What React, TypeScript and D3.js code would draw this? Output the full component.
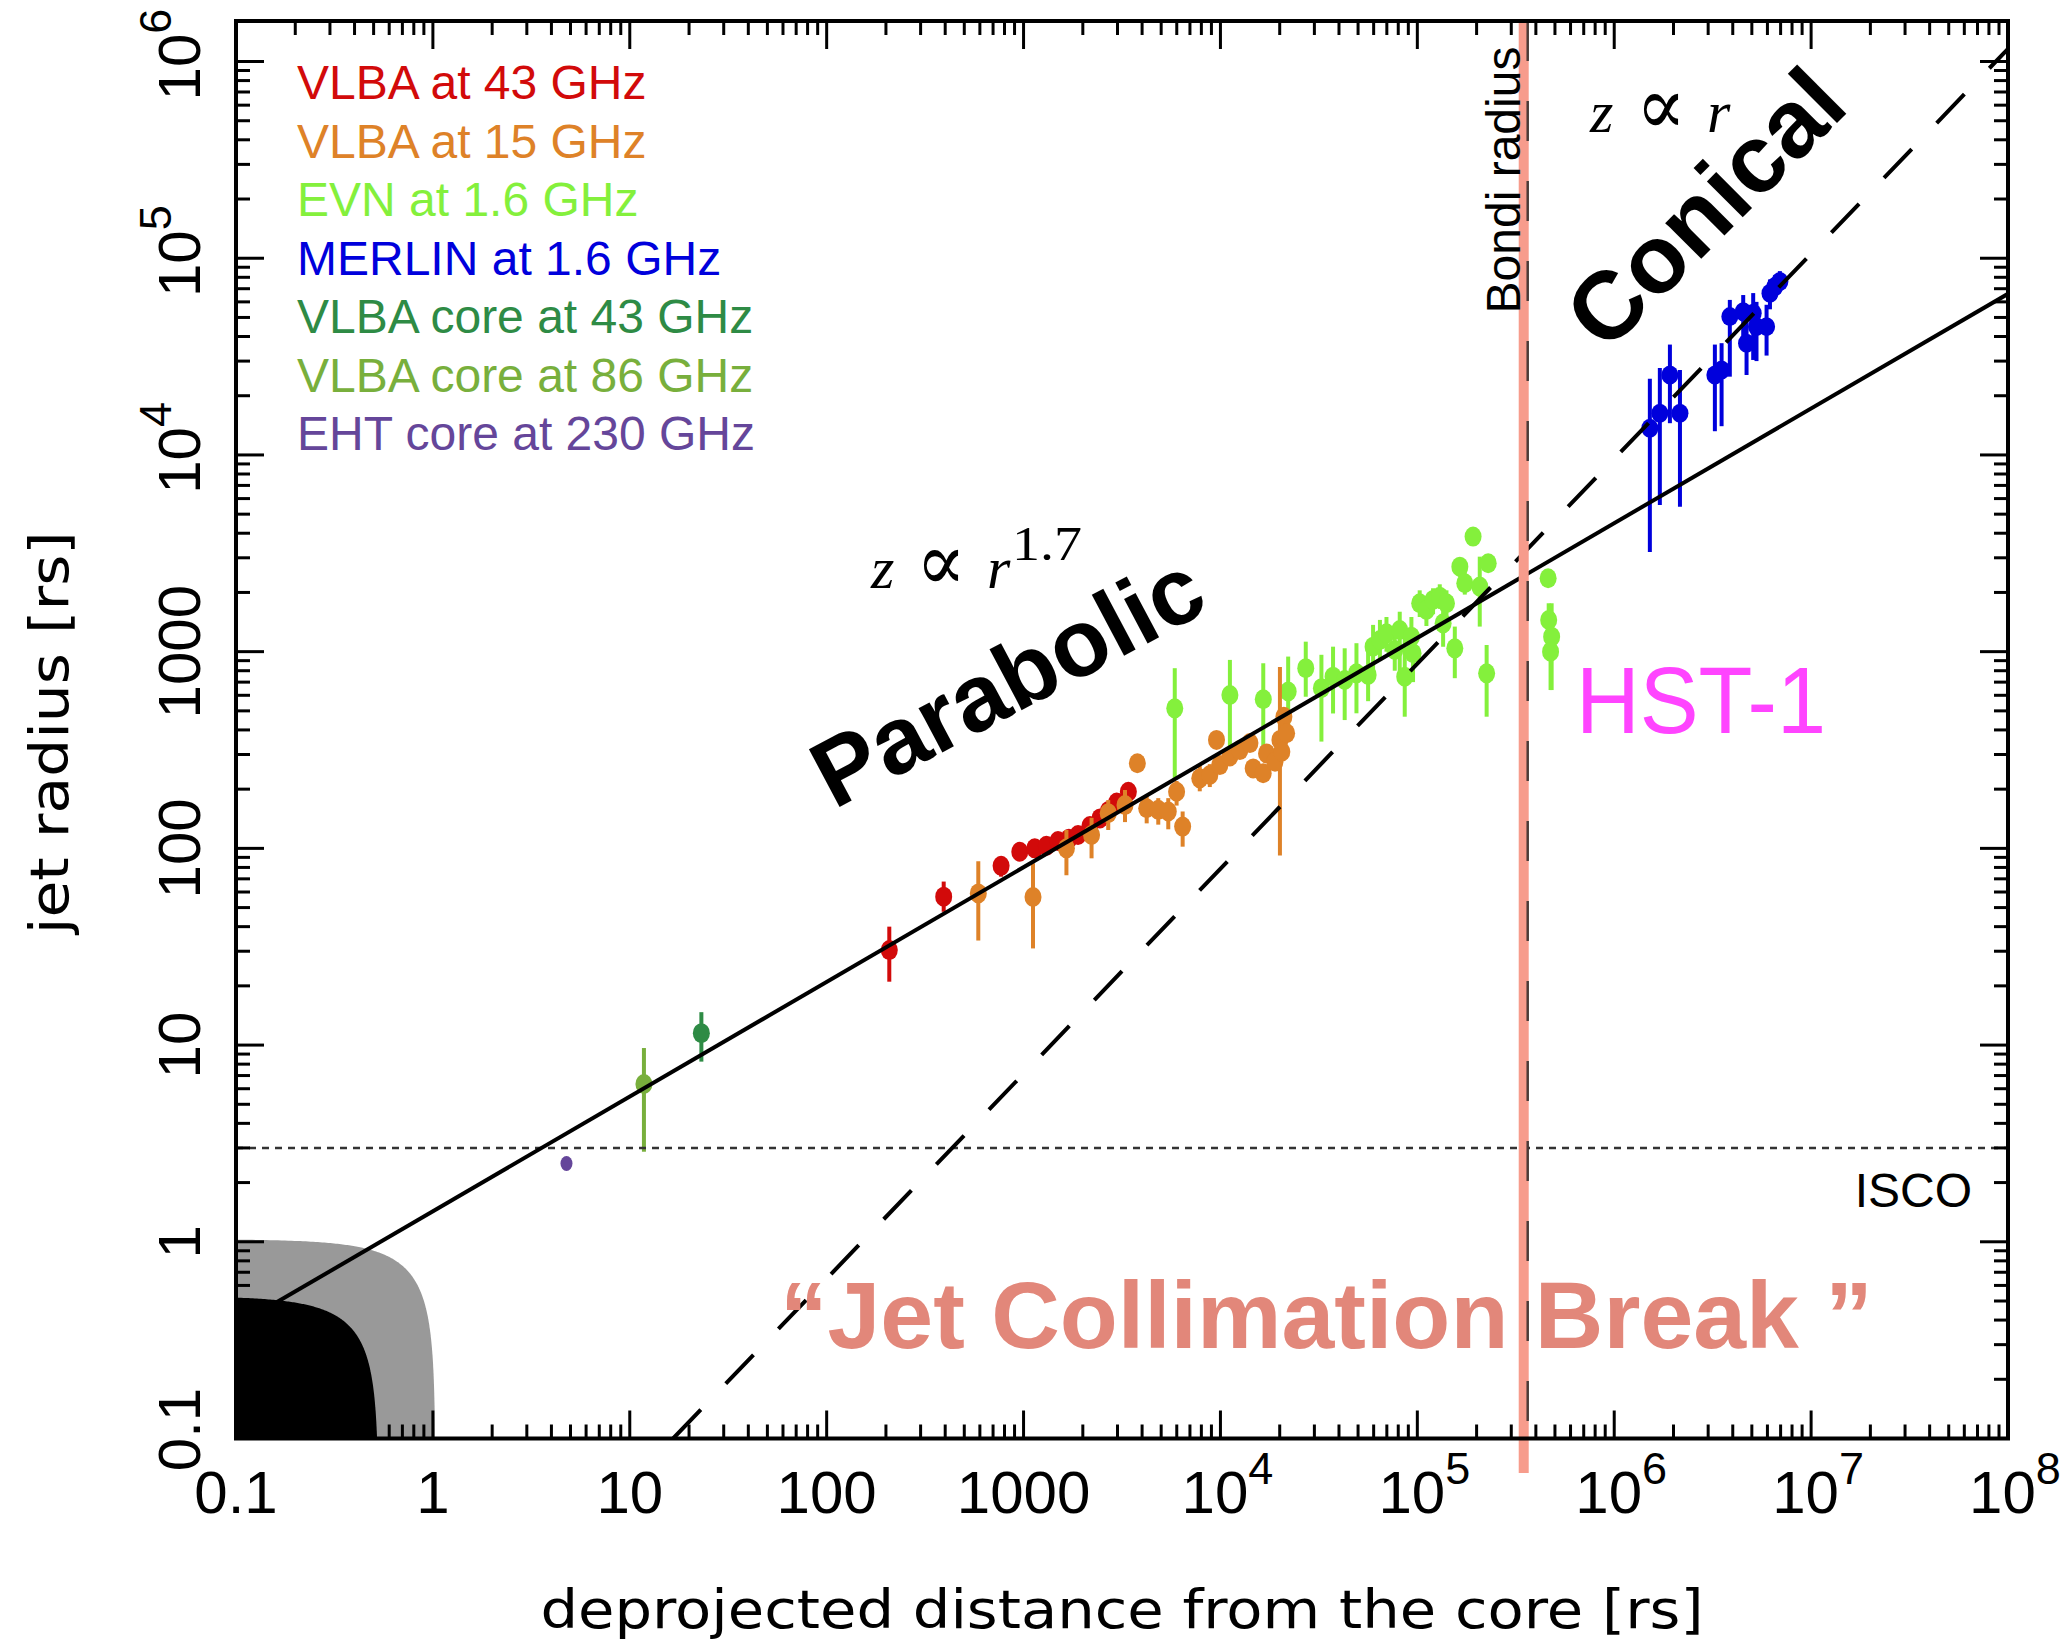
import React, { useEffect } from "react";
import * as d3 from "d3";

type Pt = [number, number, number, number]; // x, y, lowErr, highErr

// ---------- data ----------
const vlba43: Pt[] = [
  [208, 30.4, 21, 40],
  [393, 56.8, 47.6, 67.8],
  [769, 81.5, 71.8, 90.8],
  [957, 96.1, 89, 103],
  [1140, 100, 93, 107],
  [1306, 103, 96, 110],
  [1496, 109, 102, 116],
  [1700, 112, 104, 120],
  [1891, 117, 109, 125],
  [2173, 130, 121, 139],
  [2443, 142, 133, 151],
  [2700, 155, 145, 165],
  [2972, 171, 160, 182],
  [3406, 194, 182, 206],
];

const vlba15: Pt[] = [
  [589, 59, 34, 86],
  [1117, 56.6, 31, 84],
  [1651, 100, 73, 124],
  [2215, 117, 89, 143],
  [2692, 151, 124, 176],
  [3275, 166, 136, 198],
  [3784, 271, 255, 288],
  [4221, 160, 134, 186],
  [4833, 157, 132, 180],
  [5433, 154, 125, 180],
  [5988, 194, 165, 220],
  [6427, 129, 102, 154],
  [7852, 227, 195, 265],
  [8831, 236, 205, 268],
  [9550, 356, 335, 378],
  [9930, 265, 245, 287],
  [11170, 293, 272, 315],
  [12550, 316, 295, 338],
  [14120, 343, 322, 365],
  [14670, 255, 238, 275],
  [16480, 241, 222, 262],
  [17140, 304, 285, 325],
  [18910, 276, 258, 296],
  [20050, 356, 92, 836],
  [21000, 467, 440, 495],
  [21680, 385, 362, 408],
  [20500, 310, 290, 330],
];

const evn16: Pt[] = [
  [5861, 515, 223, 824],
  [11170, 602, 323, 908],
  [16500, 573, 329, 873],
  [22080, 627, 400, 944],
  [27120, 824, 590, 1124],
  [32570, 652, 349, 964],
  [37320, 746, 485, 1060],
  [42760, 718, 449, 1040],
  [49070, 776, 486, 1104],
  [56230, 762, 560, 1000],
  [59600, 1060, 776, 1368],
  [64570, 1146, 900, 1450],
  [69700, 1239, 1000, 1500],
  [76800, 1021, 800, 1300],
  [81400, 1288, 776, 1596],
  [86300, 746, 467, 1192],
  [93300, 1192, 900, 1500],
  [95100, 981, 700, 1300],
  [102800, 1762, 1500, 2050],
  [111200, 1629, 1350, 1900],
  [120200, 1832, 1550, 2100],
  [130000, 1904, 1650, 2200],
  [135200, 1393, 1059, 1762],
  [140600, 1762, 1500, 2050],
  [155000, 1040, 733, 1341],
  [164400, 2704, 2400, 3000],
  [174200, 2227, 1950, 2550],
  [191900, 3846, 3650, 4050],
  [207500, 2142, 1341, 3040],
  [229100, 2813, 2600, 3050],
  [224900, 776, 467, 1081],
  [461700, 2362, 2150, 2600],
  [464700, 1448, 1250, 1762],
  [481000, 1192, 638, 1762],
  [475000, 1000, 638, 1300],
];

const merlin16: Pt[] = [
  [1.517e6, 13680, 3215, 24400],
  [1.705e6, 16300, 5570, 27700],
  [1.918e6, 25500, 14500, 36400],
  [2.157e6, 16300, 5460, 27000],
  [3.245e6, 25500, 13200, 36400],
  [3.51e6, 27000, 14000, 37000],
  [3.865e6, 50500, 25000, 61400],
  [4.52e6, 53500, 40000, 65000],
  [4.7e6, 37000, 25500, 50500],
  [5.08e6, 52500, 30400, 66500],
  [5.28e6, 44900, 30000, 60000],
  [5.94e6, 44900, 32000, 58000],
  [6.18e6, 66400, 55000, 78000],
  [6.55e6, 71800, 62000, 82000],
  [6.94e6, 76100, 68000, 86000],
];

const core43: Pt[] = [[23.1, 11.5, 8.24, 14.7]];
const core86: Pt[] = [[11.8, 6.34, 2.87, 9.66]];
const eht230: Pt[] = [[4.77, 2.5, 2.5, 2.5]];

const seriesNames = [
  "VLBA at 43 GHz",
  "VLBA at 15 GHz",
  "EVN at 1.6 GHz",
  "MERLIN at 1.6 GHz",
  "VLBA core at 43 GHz",
  "VLBA core at 86 GHz",
  "EHT core at 230 GHz",
];
const seriesColors = ["#D20A0A", "#DE8228", "#84F03C", "#0000DC", "#2E8B45", "#78AF3C", "#65469A"];

const xTickLabels = ["0.1", "1", "10", "100", "1000", "10^4", "10^5", "10^6", "10^7", "10^8"];
const yTickLabels = ["0.1", "1", "10", "100", "1000", "10^4", "10^5", "10^6"];

// fits: r = y0 * (z / x0)^slope
const parabolicFit = { x0: 1.069e6, y0: 4677, slope: 0.583, from: 0.16, to: 1e8 };
const conicalFit = { x0: 16.6, y0: 0.1, slope: 1.042, from: 16.6, to: 1e8 };
const iscoRadius = 3;
const bondiRadius = 3.47e5;
const horizonRadii = [1.03, 0.53];

// ---------- layout ----------
const W = 2072;
const H = 1644;
const L = 236, R = 2008, T = 21, B = 1438.5;
const SANS = "'Liberation Sans', Arial, Helvetica, sans-serif";
const TITLE_FONT = "'DejaVu Sans', sans-serif";
const SERIF = "'Liberation Serif', 'DejaVu Serif', serif";

export default function App() {
  useEffect(() => {
    document.body.style.margin = "0";
    document.body.style.overflow = "hidden";
  }, []);

  const x = d3.scaleLog().domain([0.1, 1e8]).range([L, R]);
  const y = d3.scaleLog().domain([0.1, Math.pow(10, 6.206)]).range([B, T]);

  const fitLine = (f: typeof parabolicFit) => {
    const pts = [f.from, f.to].map((z) => [z, f.y0 * Math.pow(z / f.x0, f.slope)] as [number, number]);
    return d3.line<[number, number]>().x((d) => x(d[0])).y((d) => y(d[1]))(pts) || "";
  };

  const horizonPath = (r: number) => {
    const a0 = Math.asin(0.1 / r);
    const a1 = Math.acos(0.1 / r);
    const pts: [number, number][] = d3.range(0, 201).map((i) => {
      const a = a0 + ((a1 - a0) * i) / 200;
      return [r * Math.cos(a), r * Math.sin(a)];
    });
    pts.push([0.1, 0.1]);
    return (d3.line<[number, number]>().x((d) => x(d[0])).y((d) => y(d[1]))(pts) || "") + "Z";
  };

  const xMinor: number[] = [];
  for (let e = -1; e < 8; e++) for (let k = 2; k <= 9; k++) xMinor.push(k * Math.pow(10, e));
  const yMinor: number[] = [];
  for (let e = -1; e < 6; e++) for (let k = 2; k <= 9; k++) yMinor.push(k * Math.pow(10, e));
  const xMajor = xTickLabels.map((_, i) => Math.pow(10, i - 1));
  const yMajor = yTickLabels.map((_, i) => Math.pow(10, i - 1));

  const MAJ = 28, MIN = 14;

  const series: { data: Pt[]; color: string; rx: number; ry: number }[] = [
    { data: evn16, color: seriesColors[2], rx: 8.5, ry: 10 },
    { data: vlba43, color: seriesColors[0], rx: 8.5, ry: 10 },
    { data: vlba15, color: seriesColors[1], rx: 8.5, ry: 10 },
    { data: merlin16, color: seriesColors[3], rx: 8.5, ry: 9.5 },
    { data: core43, color: seriesColors[4], rx: 8.5, ry: 10 },
    { data: core86, color: seriesColors[5], rx: 8.5, ry: 10 },
    { data: eht230, color: seriesColors[6], rx: 6, ry: 7.5 },
  ];

  const renderLabel = (s: string) => {
    const [base, exp] = s.split("^");
    return exp ? (
      <>
        {base}
        <tspan dy={-29} fontSize={45}>
          {exp}
        </tspan>
      </>
    ) : (
      base
    );
  };

  return (
    <svg width={W} height={H} style={{ position: "absolute", left: 0, top: 0, display: "block" }}>
      <rect x={0} y={0} width={W} height={H} fill="#fff" />
      <defs>
        <clipPath id="plotClip">
          <rect x={L} y={T} width={R - L} height={B - T} />
        </clipPath>
      </defs>

      <g clipPath="url(#plotClip)">
        <path d={horizonPath(horizonRadii[0])} fill="#999999" />
        <path d={horizonPath(horizonRadii[1])} fill="#000000" />

        {series.map((s, si) => (
          <g key={si}>
            {s.data.map((d, i) =>
              d[2] !== d[3] ? (
                <line key={"e" + i} x1={x(d[0])} x2={x(d[0])} y1={y(d[2])} y2={y(d[3])} stroke={s.color} strokeWidth={4} />
              ) : null
            )}
            {s.data.map((d, i) => (
              <ellipse key={"m" + i} cx={x(d[0])} cy={y(d[1])} rx={s.rx} ry={s.ry} fill={s.color} />
            ))}
          </g>
        ))}

        <line x1={L} x2={R} y1={y(iscoRadius)} y2={y(iscoRadius)} stroke="#333" strokeWidth={2.5} strokeDasharray="7 6" />
        <path d={fitLine(parabolicFit)} stroke="#000" strokeWidth={4} fill="none" />
        <path d={fitLine(conicalFit)} stroke="#000" strokeWidth={4} fill="none" strokeDasharray="40 36" />
      </g>

      {/* Jet collimation break label */}
      <text x={780} y={1348} fontFamily={SANS} fontWeight="bold" fontSize={95} fill="#E2877A">
        “Jet Collimation Break ”
      </text>

      {/* Bondi radius */}
      <line x1={x(bondiRadius)} x2={x(bondiRadius)} y1={T} y2={1473} stroke="#F79C8C" strokeWidth={10} />
      <line x1={x(bondiRadius) + 4} x2={x(bondiRadius) + 4} y1={T} y2={B} stroke="#222" strokeWidth={2.5} strokeDasharray="40 40" opacity={0.8} />
      <text transform={`translate(1520,180) rotate(-90)`} textAnchor="middle" fontFamily={SANS} fontSize={48} fill="#000">
        Bondi radius
      </text>

      {/* ticks */}
      <g stroke="#000" strokeWidth={3}>
        {xMajor.map((v, i) => (
          <g key={"xM" + i}>
            <line x1={x(v)} x2={x(v)} y1={B} y2={B - MAJ} />
            <line x1={x(v)} x2={x(v)} y1={T} y2={T + MAJ} />
          </g>
        ))}
        {xMinor.map((v, i) => (
          <g key={"xm" + i}>
            <line x1={x(v)} x2={x(v)} y1={B} y2={B - MIN} />
            <line x1={x(v)} x2={x(v)} y1={T} y2={T + MIN} />
          </g>
        ))}
        {yMajor.map((v, i) => (
          <g key={"yM" + i}>
            <line x1={L} x2={L + MAJ} y1={y(v)} y2={y(v)} />
            <line x1={R} x2={R - MAJ} y1={y(v)} y2={y(v)} />
          </g>
        ))}
        {yMinor.map((v, i) => (
          <g key={"ym" + i}>
            <line x1={L} x2={L + MIN} y1={y(v)} y2={y(v)} />
            <line x1={R} x2={R - MIN} y1={y(v)} y2={y(v)} />
          </g>
        ))}
      </g>
      <rect x={L} y={T} width={R - L} height={B - T} fill="none" stroke="#000" strokeWidth={4} />

      {/* tick labels */}
      <g fontFamily={SANS} fontSize={60} fill="#000">
        {xTickLabels.map((s, i) => (
          <text key={"xl" + i} x={x(xMajor[i]) + (s.includes("^") ? 7 : 0)} y={1513} textAnchor="middle">
            {renderLabel(s)}
          </text>
        ))}
        {yTickLabels.map((s, i) => (
          <text
            key={"yl" + i}
            transform={`translate(200,${y(yMajor[i]) - (s.includes("^") ? 7 : 0) + (i === 0 ? -9 : 0)}) rotate(-90)`}
            textAnchor="middle"
          >
            {renderLabel(s)}
          </text>
        ))}
      </g>

      {/* axis titles */}
      <text x={(L + R) / 2} y={1628} textAnchor="middle" fontFamily={TITLE_FONT} fontSize={54} textLength={1163} lengthAdjust="spacingAndGlyphs">
        deprojected distance from the core [rs]
      </text>
      <text transform={`translate(68,${(T + B) / 2 + 3}) rotate(-90)`} textAnchor="middle" fontFamily={TITLE_FONT} fontSize={54} textLength={403} lengthAdjust="spacingAndGlyphs">
        jet radius [rs]
      </text>

      {/* legend */}
      <g fontFamily={SANS} fontSize={48}>
        {seriesNames.map((n, i) => (
          <text key={"lg" + i} x={297} y={99 + i * 58.5} fill={seriesColors[i]}>
            {n}
          </text>
        ))}
      </g>

      {/* annotations */}
      <text transform="translate(834,810) rotate(-28)" fontFamily={SANS} fontWeight="bold" fontSize={95} fill="#000">
        Parabolic
      </text>
      <text transform="translate(1606,354) rotate(-45)" fontFamily={SANS} fontWeight="bold" fontSize={96} fill="#000">
        Conical
      </text>

      <g fontFamily={SERIF} fontSize={60} fill="#000">
        <text x={871} y={588} fontStyle="italic">z</text>
        <text x={916} y={590} fontSize={82} textLength={50} lengthAdjust="spacingAndGlyphs">∝</text>
        <text x={987} y={588} fontStyle="italic">r</text>
        <text x={1012} y={560} fontSize={48} textLength={70} lengthAdjust="spacingAndGlyphs">1.7</text>

        <text x={1590} y={132} fontStyle="italic">z</text>
        <text x={1636} y={134} fontSize={82} textLength={50} lengthAdjust="spacingAndGlyphs">∝</text>
        <text x={1707} y={132} fontStyle="italic">r</text>
      </g>

      <text x={1576} y={733} fontFamily={SANS} fontSize={94} fill="#FF44FF" textLength={250} lengthAdjust="spacingAndGlyphs">
        HST-1
      </text>
      <text x={1972} y={1207} textAnchor="end" fontFamily={SANS} fontSize={48} fill="#000">
        ISCO
      </text>
    </svg>
  );
}
